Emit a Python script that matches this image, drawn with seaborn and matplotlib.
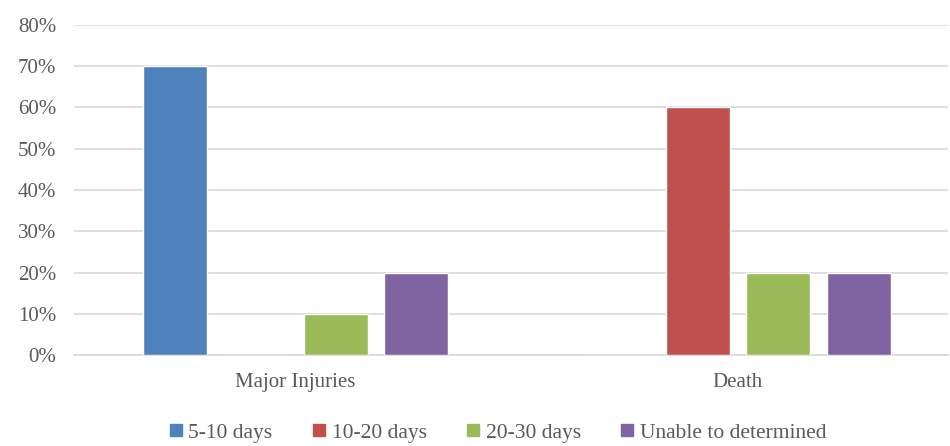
import matplotlib
matplotlib.use("Agg")
import matplotlib.pyplot as plt
from matplotlib.lines import Line2D
from matplotlib.ticker import PercentFormatter
import pandas as pd
import seaborn as sns

categories = ["Major Injuries", "Death"]
series = ["5-10 days", "10-20 days", "20-30 days", "Unable to determined"]
colors = ["#4F81BD", "#C0504D", "#9BBB59", "#8064A2"]
values = {
    "5-10 days": [0.70, 0.0],
    "10-20 days": [0.0, 0.60],
    "20-30 days": [0.10, 0.20],
    "Unable to determined": [0.20, 0.20],
}
y_ticks = [0, 0.1, 0.2, 0.3, 0.4, 0.5, 0.6, 0.7, 0.8]

rows = []
for s in series:
    for c, v in zip(categories, values[s]):
        rows.append({"category": c, "series": s, "value": v})
df = pd.DataFrame(rows)

sns.set_style("white")
plt.rcParams["font.family"] = ["Liberation Serif", "DejaVu Serif"]
text_color = "#595959"

fig = plt.figure(figsize=(9.5, 4.46), dpi=100)
ax = fig.add_axes([0.078, 0.204, 0.92, 0.740])

sns.barplot(data=df, x="category", y="value", hue="series", order=categories,
            hue_order=series, palette=colors, width=0.728, gap=0.205,
            saturation=1, legend=False, ax=ax, zorder=3)

ax.set_ylim(0, 0.8)
ax.set_yticks(y_ticks)
ax.yaxis.set_major_formatter(PercentFormatter(1.0, decimals=0))
ax.set_xlim(-0.5, 1.475)
ax.grid(axis="y", color="#D9D9D9", linewidth=1.2, zorder=0)
ax.set_axisbelow(True)
for side in ["left", "right", "top"]:
    ax.spines[side].set_visible(False)
ax.spines["bottom"].set_color("#D9D9D9")
ax.spines["bottom"].set_linewidth(1.2)
ax.set_xlabel("")
ax.set_ylabel("")
ax.tick_params(axis="y", length=0, pad=13, labelsize=15, labelcolor=text_color)
ax.tick_params(axis="x", length=0, pad=13, labelsize=15, labelcolor=text_color)

handles = [Line2D([], [], marker="s", linestyle="", markersize=8,
                  markerfacecolor=c, markeredgecolor=c) for c in colors]
fig.legend(handles, series, loc="center", bbox_to_anchor=(0.523, 0.03),
           ncol=4, frameon=False, fontsize=15.5, labelcolor=text_color,
           handletextpad=0.2, columnspacing=1.75, handlelength=0.8)

fig.savefig("out.png", dpi=100)
